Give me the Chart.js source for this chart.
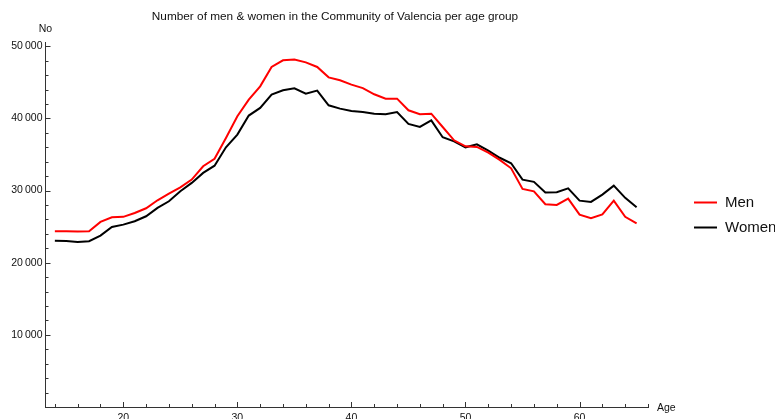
<!DOCTYPE html>
<html>
<head>
<meta charset="utf-8">
<script src="https://cdn.jsdelivr.net/npm/chart.js@4.4.1/dist/chart.umd.min.js"></script>
<style>
  html, body { margin: 0; padding: 0; background: #fff; overflow: hidden; }
  #wrap { width: 775px; height: 419px; overflow: hidden; }
</style>
</head>
<body>
<div id="wrap"><canvas id="chart" width="775" height="432"></canvas></div>
<script>
// Data
const ages = [14, 15, 16, 17, 18, 19, 20, 21, 22, 23, 24, 25, 26, 27, 28, 29, 30, 31, 32, 33,
              34, 35, 36, 37, 38, 39, 40, 41, 42, 43, 44, 45, 46, 47, 48, 49, 50, 51, 52, 53,
              54, 55, 56, 57, 58, 59, 60, 61, 62, 63, 64, 65];
const men = [24360, 24360, 24340, 24360, 25660, 26300, 26360, 26900, 27550, 28660, 29580, 30460,
             31530, 33370, 34420, 37300, 40300, 42610, 44450, 47140, 48060, 48160, 47780, 47140,
             45700, 45290, 44690, 44200, 43350, 42750, 42750, 41130, 40590, 40660, 38820, 36970,
             36140, 36060, 35270, 34250, 33090, 30230, 29900, 28110, 28020, 28890, 26670, 26160,
             26710, 28610, 26360, 25470];
const women = [23030, 23000, 22890, 22980, 23760, 24960, 25280, 25750, 26440, 27600, 28520, 29900,
               31070, 32450, 33450, 36000, 37760, 40400, 41460, 43300, 43910, 44190, 43440, 43860,
               41820, 41360, 41050, 40890, 40670, 40590, 40900, 39250, 38820, 39740, 37390, 36830,
               36000, 36410, 35540, 34550, 33790, 31520, 31210, 29730, 29770, 30320, 28610, 28430,
               29450, 30690, 28990, 27690];
const xMajor = [20, 30, 40, 50, 60];
const yMajor = [10000, 20000, 30000, 40000, 50000];

const FONT = "'Liberation Sans', Arial, sans-serif";
const AXIS = '#333';

function toPoints(vals) { return ages.map((a, i) => ({ x: a, y: vals[i] })); }
function fmtNum(v) { return String(v).replace(/\B(?=(\d{3})+(?!\d))/g, '\u2009'); }

// Inward ticks, axis names, title and legend (Mathematica look)
const decorations = {
    id: 'decorations',
    afterDraw(chart) {
        const { ctx, chartArea: area, scales: { x, y } } = chart;
        ctx.save();
        ctx.strokeStyle = AXIS;
        ctx.lineWidth = 1;
        ctx.beginPath();
        for (let a = 14; a <= 66; a += 2) {
            const px = Math.round(x.getPixelForValue(a)) + 0.5;
            const len = a % 10 === 0 ? 5 : 3;
            ctx.moveTo(px, area.bottom);
            ctx.lineTo(px, area.bottom - len);
        }
        for (let v = 2000; v <= 50000; v += 2000) {
            const py = Math.round(y.getPixelForValue(v)) + 0.5;
            const len = v % 10000 === 0 ? 5 : 3;
            ctx.moveTo(area.left, py);
            ctx.lineTo(area.left + len, py);
        }
        ctx.stroke();

        ctx.fillStyle = '#111';
        ctx.font = '10.5px ' + FONT;
        ctx.textBaseline = 'middle';
        ctx.textAlign = 'center';
        ctx.fillText('No', area.left, 29);
        ctx.textAlign = 'left';
        ctx.fillText('Age', 657, 408);

        ctx.font = '11.8px ' + FONT;
        ctx.textAlign = 'center';
        ctx.fillText('Number of men & women in the Community of Valencia per age group', 335, 17);

        // Legend
        ctx.font = '15px ' + FONT;
        ctx.textAlign = 'left';
        chart.data.datasets.forEach((ds, i) => {
            const ly = 202.5 + i * 25;
            ctx.strokeStyle = ds.borderColor;
            ctx.lineWidth = ds.borderWidth;
            ctx.beginPath();
            ctx.moveTo(694, ly);
            ctx.lineTo(717, ly);
            ctx.stroke();
            ctx.fillStyle = '#111';
            ctx.fillText(ds.label, 725, ly);
        });
        ctx.restore();
    }
};

new Chart(document.getElementById('chart'), {
    type: 'line',
    data: {
        datasets: [
            { label: 'Men', data: toPoints(men), borderColor: '#ff0000', borderWidth: 2, pointRadius: 0, tension: 0 },
            { label: 'Women', data: toPoints(women), borderColor: '#000000', borderWidth: 2, pointRadius: 0, tension: 0 }
        ]
    },
    options: {
        responsive: false,
        animation: false,
        devicePixelRatio: 1,
        layout: { padding: { left: 0, right: 127, top: 42, bottom: 0 } },
        plugins: { legend: { display: false }, tooltip: { enabled: false }, title: { display: false } },
        scales: {
            x: {
                type: 'linear', min: 13.18, max: 66,
                grid: { display: false, drawTicks: false },
                border: { display: true, color: AXIS, width: 1 },
                afterFit(scale) { scale.height = 25; },
                afterBuildTicks(scale) { scale.ticks = xMajor.map(v => ({ value: v })); },
                ticks: { padding: 5, color: '#111', font: { family: FONT, size: 10.5 }, maxRotation: 0 }
            },
            y: {
                type: 'linear', min: 0, max: 50600,
                grid: { display: false, drawTicks: false },
                border: { display: true, color: AXIS, width: 1 },
                afterFit(scale) { scale.width = 45.5; },
                afterBuildTicks(scale) { scale.ticks = yMajor.map(v => ({ value: v })); },
                ticks: { padding: 3, color: '#111', font: { family: FONT, size: 10.5 }, callback: v => fmtNum(v) }
            }
        }
    },
    plugins: [decorations]
});
</script>
</body>
</html>
